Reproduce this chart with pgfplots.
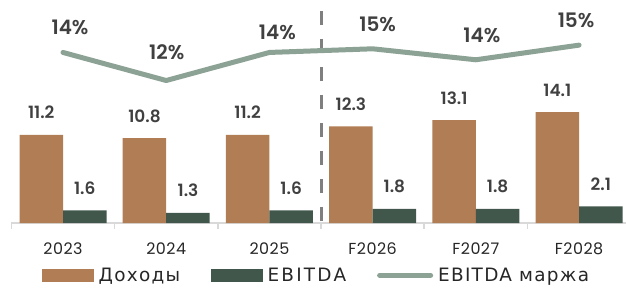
\documentclass[border=0pt]{standalone}
\usepackage{fontspec}
\setmainfont{Poppins}
\newfontfamily\semib{Poppins SemiBold}
\newfontfamily\legf{DejaVu Sans}[LetterSpace=7]
\usepackage{pgfplots}
\usepackage{pgfplotstable}
\pgfplotsset{compat=1.18}
\definecolor{brownc}{HTML}{B07D54}
\definecolor{greenc}{HTML}{41574C}
\definecolor{linec}{HTML}{8CA295}
\definecolor{dashc}{HTML}{7F7F7F}
\definecolor{txt}{HTML}{404040}
\definecolor{tick}{HTML}{262626}
\definecolor{axisgrey}{HTML}{D9D9D9}

\pgfplotstableread{
x rev ebitda
0 11.2 1.6
1 10.8 1.3
2 11.2 1.6
3 12.3 1.8
4 13.1 1.8
5 14.1 2.1
}\bars
\pgfplotstableread{
x m dx dy
0 14.3 7 18
1 12.0 0.5 20.8
2 14.3 8 12.6
3 14.6 5 16.8
4 13.7 6 17.6
5 14.9 -3 18
}\margin

\begin{document}
\begin{tikzpicture}
\useasboundingbox (0,0) rectangle (626bp,288bp);
\pgfplotsset{common/.style={
  scale only axis, width=614.6bp, height=223bp,
  xmin=-0.5, xmax=5.455,
  at={(11.4bp,65bp)}, anchor=south west, clip=false,
  /pgf/number format/assume math mode=true}}
\begin{axis}[common,
  ymin=0, ymax=28.37,
  axis y line=none, axis x line*=bottom,
  x axis line style={draw=axisgrey, line width=1.5bp, -},
  xtick={0,...,5},
  xticklabels={2023,2024,2025,F2026,F2027,F2028},
  major tick length=0pt,
  minor xtick={-0.5,0.5,1.5,2.5,3.5,4.5},
  minor tick length=6bp, tick align=outside,
  minor tick style={draw=axisgrey, line width=1.5bp},
  xticklabel style={font=\addfontfeature{LetterSpace=3}\fontsize{16}{16}\selectfont, text=tick, anchor=base, yshift=-31bp},
  every node near coord/.append style={font=\semib\fontsize{17}{17}\selectfont, text=txt, anchor=base, yshift=16bp},
  nodes near coords={\pgfmathprintnumber[fixed,precision=1,fixed zerofill]{\pgfplotspointmeta}},
]
\addplot[ybar, bar width=43.5bp, bar shift=-21.75bp, fill=brownc, draw=none,
  every node near coord/.append style={xshift=-21.75bp}] table[x=x,y=rev]{\bars};
\addplot[ybar, bar width=43.5bp, bar shift=21.75bp, fill=greenc, draw=none,
  every node near coord/.append style={xshift=21.75bp}] table[x=x,y=ebitda]{\bars};
\draw[dashc, line width=3bp, dash pattern=on 14.5bp off 13.5bp] (axis cs:2.5,27.0) -- (axis cs:2.5,0);
\end{axis}
\begin{axis}[common,
  ymin=0.32, ymax=18.60, hide axis,
  legend columns=3,
  legend style={draw=none, fill=none, inner sep=0pt, at={(0.0498,-0.2345)}, anchor=west,
    font=\legf\fontsize{18.5}{18.5}\selectfont, text=tick,
    nodes={inner sep=3bp},
    /tikz/every odd column/.append style={column sep=2bp},
    /tikz/every even column/.append style={column sep=28bp},
    /tikz/column 4/.append style={column sep=39bp}},
]
\addlegendimage{legend image code/.code={\fill[brownc] (0bp,-6bp) rectangle (51bp,6bp);}}
\addlegendentry{Доходы}
\addlegendimage{legend image code/.code={\fill[greenc] (0bp,-6bp) rectangle (51bp,6bp);}}
\addlegendentry{{\addfontfeature{LetterSpace=12}EBITDA}}
\addlegendimage{legend image code/.code={\draw[linec, line width=5bp, line cap=round] (2bp,0bp) -- (53bp,0bp);}}
\addlegendentry{EBITDA маржа}
\addplot[linec, line width=5bp, line cap=round, line join=round,
  nodes near coords={\pgfmathprintnumber[fixed,precision=0]{\pgfplotspointmeta}\%},
  visualization depends on={\thisrow{dx} \as \dx},
  visualization depends on={\thisrow{dy} \as \dy},
  every node near coord/.append style={font=\semib\fontsize{20}{20}\selectfont, text=txt, anchor=base, xshift=\dx*1bp, yshift=\dy*1bp},
  forget plot] table[x=x,y=m]{\margin};
\end{axis}
\end{tikzpicture}
\end{document}
